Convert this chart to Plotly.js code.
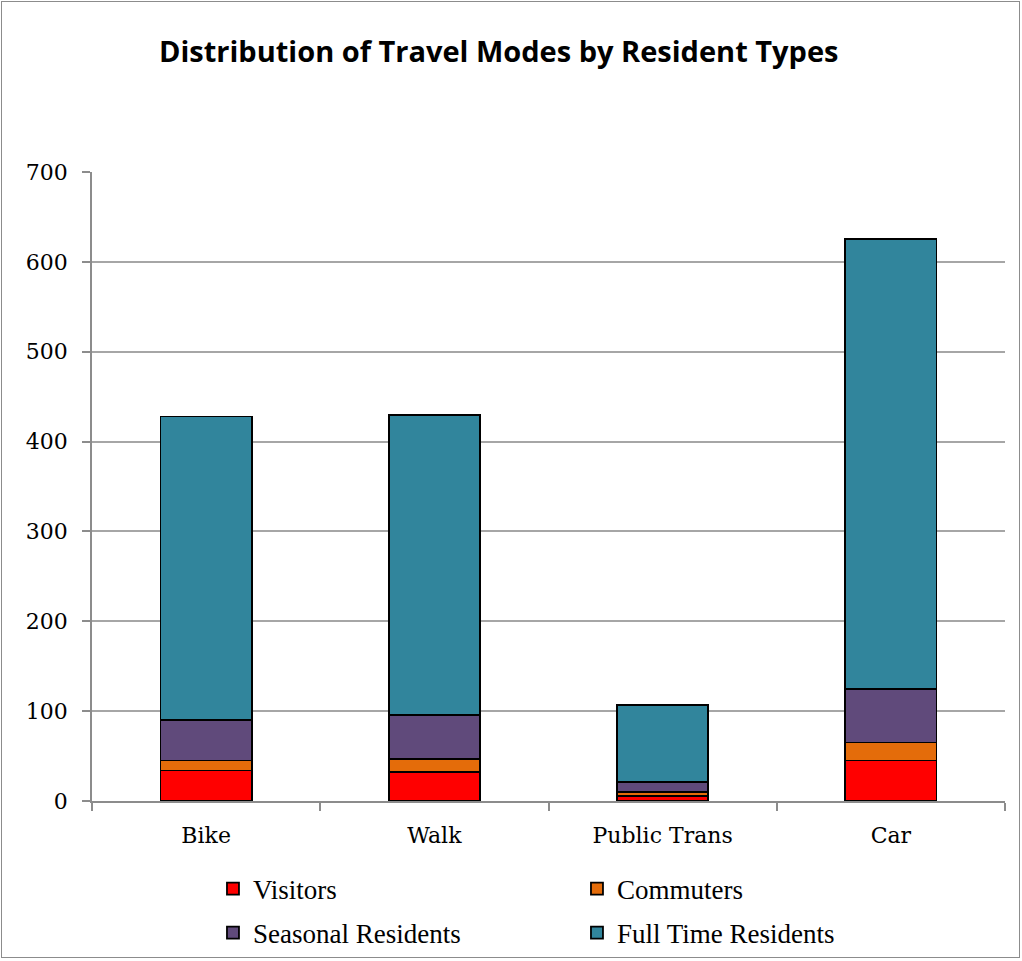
<!DOCTYPE html>
<html>
<head>
<meta charset="utf-8">
<script src="https://cdn.plot.ly/plotly-3.0.1.min.js"></script>
<style>
  body { margin: 0; padding: 0; background: #fff; }
  #wrap { position: relative; width: 1022px; height: 961px; }
  #chart { width: 1022px; height: 961px; }
  #frame { position: absolute; left: 1px; top: 1px; width: 1017px; height: 955px; border: 1.5px solid #8c8c8c; pointer-events: none; }
</style>
</head>
<body>
<div id="wrap">
  <div id="chart"></div>
  <div id="frame"></div>
</div>
<script>
const categories = ["Bike", "Walk", "Public Trans", "Car"];
const visitors = [34, 32, 6, 45];
const commuters = [11, 15, 4, 20];
const seasonal = [45, 49, 11, 60];
const fullTime = [338, 334, 86, 500];
const yTicks = [0, 100, 200, 300, 400, 500, 600, 700];

const lineStyle = { color: "#000000", width: 1.8 };
function bar(name, values, color, legend) {
  return {
    type: "bar", name: name, x: categories, y: values,
    marker: { color: color, line: lineStyle },
    legend: legend, hoverinfo: "y+name"
  };
}

const data = [
  bar("Visitors", visitors, "#FF0000", "legend"),
  bar("Commuters", commuters, "#E46C0A", "legend"),
  bar("Seasonal Residents", seasonal, "#604A7B", "legend2"),
  bar("Full Time Residents", fullTime, "#31859C", "legend2")
];

const legendFont = { family: "Liberation Serif, serif", size: 27, color: "#000" };
const layout = {
  width: 1022, height: 961,
  margin: { l: 92, r: 17, t: 172, b: 160, autoexpand: false },
  paper_bgcolor: "#ffffff", plot_bgcolor: "#ffffff",
  barmode: "stack", bargap: 0.6,
  title: {
    text: "<b>Distribution of Travel Modes by Resident Types</b>",
    font: { family: "Open Sans, sans-serif", size: 29, color: "#000" },
    x: 0.488, xanchor: "center", xref: "container",
    y: 1 - 52 / 961, yanchor: "middle", yref: "container"
  },
  xaxis: {
    type: "category",
    showgrid: false, showline: true, linecolor: "#8c8c8c", linewidth: 1.5,
    ticks: "outside", tickson: "boundaries", ticklen: 8, tickcolor: "#8c8c8c", tickwidth: 1.5,
    tickfont: { family: "DejaVu Serif, serif", size: 22, color: "#000" },
    ticklabelstandoff: 14
  },
  yaxis: {
    range: [0, 700], tickvals: yTicks, ticktext: yTicks.map(String),
    showgrid: true, gridcolor: "#a6a6a6", gridwidth: 1.5,
    showline: true, linecolor: "#8c8c8c", linewidth: 1.5, zeroline: false,
    ticks: "outside", ticklen: 8, tickcolor: "#8c8c8c", tickwidth: 1.5,
    tickfont: { family: "DejaVu Serif, serif", size: 22, color: "#000" },
    ticklabelstandoff: 10
  },
  legend: {
    orientation: "h", x: 0.1325, xanchor: "left", y: (801 - 889) / 629, yanchor: "middle",
    entrywidth: 319, entrywidthmode: "pixels", font: legendFont, traceorder: "normal",
    bgcolor: "rgba(0,0,0,0)"
  },
  legend2: {
    orientation: "h", x: 0.1325, xanchor: "left", y: (801 - 933) / 629, yanchor: "middle",
    entrywidth: 319, entrywidthmode: "pixels", font: legendFont, traceorder: "normal",
    bgcolor: "rgba(0,0,0,0)"
  },
  showlegend: true
};

Plotly.newPlot("chart", data, layout, { displayModeBar: false, responsive: false });
</script>
</body>
</html>
